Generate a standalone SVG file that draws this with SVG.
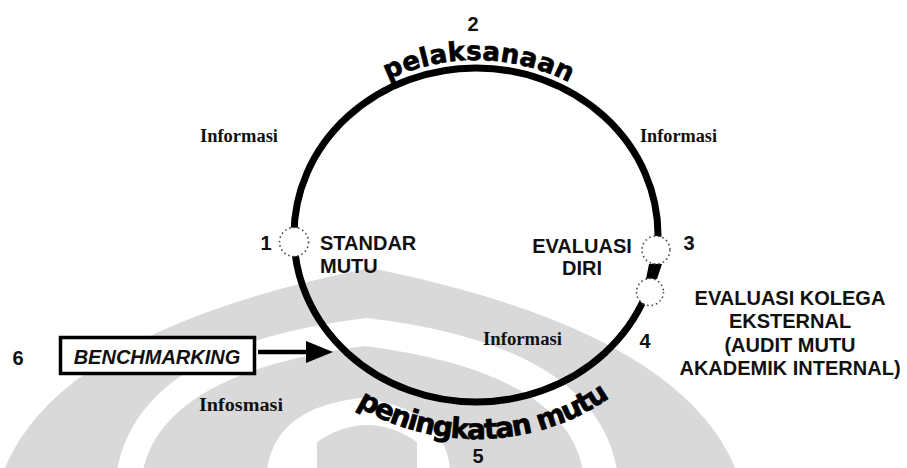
<svg xmlns="http://www.w3.org/2000/svg" width="907" height="468" viewBox="0 0 907 468">
  <style>
    .lbl { font-family: "Liberation Sans", Arial, sans-serif; font-weight: bold; font-size: 20px; fill: #111; }
    .num { font-family: "Liberation Sans", Arial, sans-serif; font-weight: bold; font-size: 20px; fill: #111; }
    .info { font-family: "Liberation Serif", "Times New Roman", serif; font-weight: bold; font-size: 18px; fill: #111; }
    .arc { font-family: "DejaVu Sans", "Liberation Sans", sans-serif; font-weight: bold; fill: #000; stroke: #000; stroke-width: 0.7; }
    .node { fill: #fff; stroke: #444; stroke-width: 1.6; stroke-dasharray: 1.5 3; }
    .wm { fill: #d9d9d9; fill-rule: evenodd; }
  </style>
  <defs>
    <path id="topArc" d="M 286 235 A 190 175 0 0 1 666 235"/>
    <path id="bottomArc" d="M 257 235 A 220 204 0 0 0 697 235"/>
  </defs>
  <rect width="907" height="468" fill="#fff"/>

  <!-- faint background emblem: nested arches -->
  <g id="watermark">
    <path class="wm" d="M 4 470 Q 60 330 370 268 Q 680 330 736 470 Z M 117 470 Q 140 345 367 318 Q 595 345 617 470 Z"/>
    <path class="wm" d="M 143 470 Q 165 372 365 346 Q 565 372 583 470 Z M 267 470 Q 275 408 360 398 Q 445 408 450 470 Z"/>
    <path class="wm" d="M 317 470 L 317 442 Q 367 408 417 442 L 417 470 Z"/>
  </g>

  <!-- cycle ring and benchmarking arrow -->
  <g id="connectors">
    <ellipse cx="476" cy="235" rx="182" ry="167" fill="none" stroke="#000" stroke-width="7"/>
    <polygon points="649,264 662,264 657,279 646,279" fill="#000"/>
    <line x1="258" y1="352" x2="310" y2="352" stroke="#000" stroke-width="4.5"/>
    <polygon points="306,341 333,352 306,363" fill="#000"/>
  </g>

  <g id="node-pelaksanaan">
    <text class="num" x="473" y="31" text-anchor="middle">2</text>
    <text class="arc" font-size="26" letter-spacing="0.3"><textPath href="#topArc" startOffset="50.5%" text-anchor="middle">pelaksanaan</textPath></text>
  </g>

  <g id="node-standar">
    <circle class="node" cx="294" cy="242" r="14.5"/>
    <text class="num" x="266" y="250" text-anchor="middle">1</text>
    <text class="lbl" x="320" y="250">STANDAR</text>
    <text class="lbl" x="320" y="273">MUTU</text>
  </g>

  <g id="node-evaluasi-diri">
    <circle class="node" cx="656" cy="250" r="14"/>
    <text class="num" x="689" y="250" text-anchor="middle">3</text>
    <text class="lbl" x="582" y="253" text-anchor="middle">EVALUASI</text>
    <text class="lbl" x="582" y="275" text-anchor="middle">DIRI</text>
  </g>

  <g id="node-evaluasi-kolega">
    <circle class="node" cx="650" cy="292" r="13.5"/>
    <text class="num" x="645" y="348" text-anchor="middle">4</text>
    <text class="lbl" x="790" y="305" text-anchor="middle">EVALUASI KOLEGA</text>
    <text class="lbl" x="790" y="328" text-anchor="middle">EKSTERNAL</text>
    <text class="lbl" x="790" y="352" text-anchor="middle">(AUDIT MUTU</text>
    <text class="lbl" x="790" y="375" text-anchor="middle">AKADEMIK INTERNAL)</text>
  </g>

  <g id="node-peningkatan">
    <text class="arc" font-size="28" letter-spacing="-1.5"><textPath href="#bottomArc" startOffset="51%" text-anchor="middle">peningkatan mutu</textPath></text>
    <text class="num" x="478" y="463" text-anchor="middle" font-size="19">5</text>
  </g>

  <g id="node-benchmarking">
    <text class="num" x="18" y="365" text-anchor="middle">6</text>
    <rect x="60.5" y="337.5" width="194" height="36" fill="#fff" stroke="#000" stroke-width="3.5"/>
    <text class="lbl" x="157" y="364" text-anchor="middle" font-style="italic">BENCHMARKING</text>
  </g>

  <g id="info-labels">
    <text class="info" x="200" y="142" textLength="78" lengthAdjust="spacingAndGlyphs">Informasi</text>
    <text class="info" x="640" y="142" textLength="77" lengthAdjust="spacingAndGlyphs">Informasi</text>
    <text class="info" x="483" y="345" textLength="79" lengthAdjust="spacingAndGlyphs">Informasi</text>
    <text class="info" x="199" y="411" textLength="84" lengthAdjust="spacingAndGlyphs">Infosmasi</text>
  </g>
</svg>
